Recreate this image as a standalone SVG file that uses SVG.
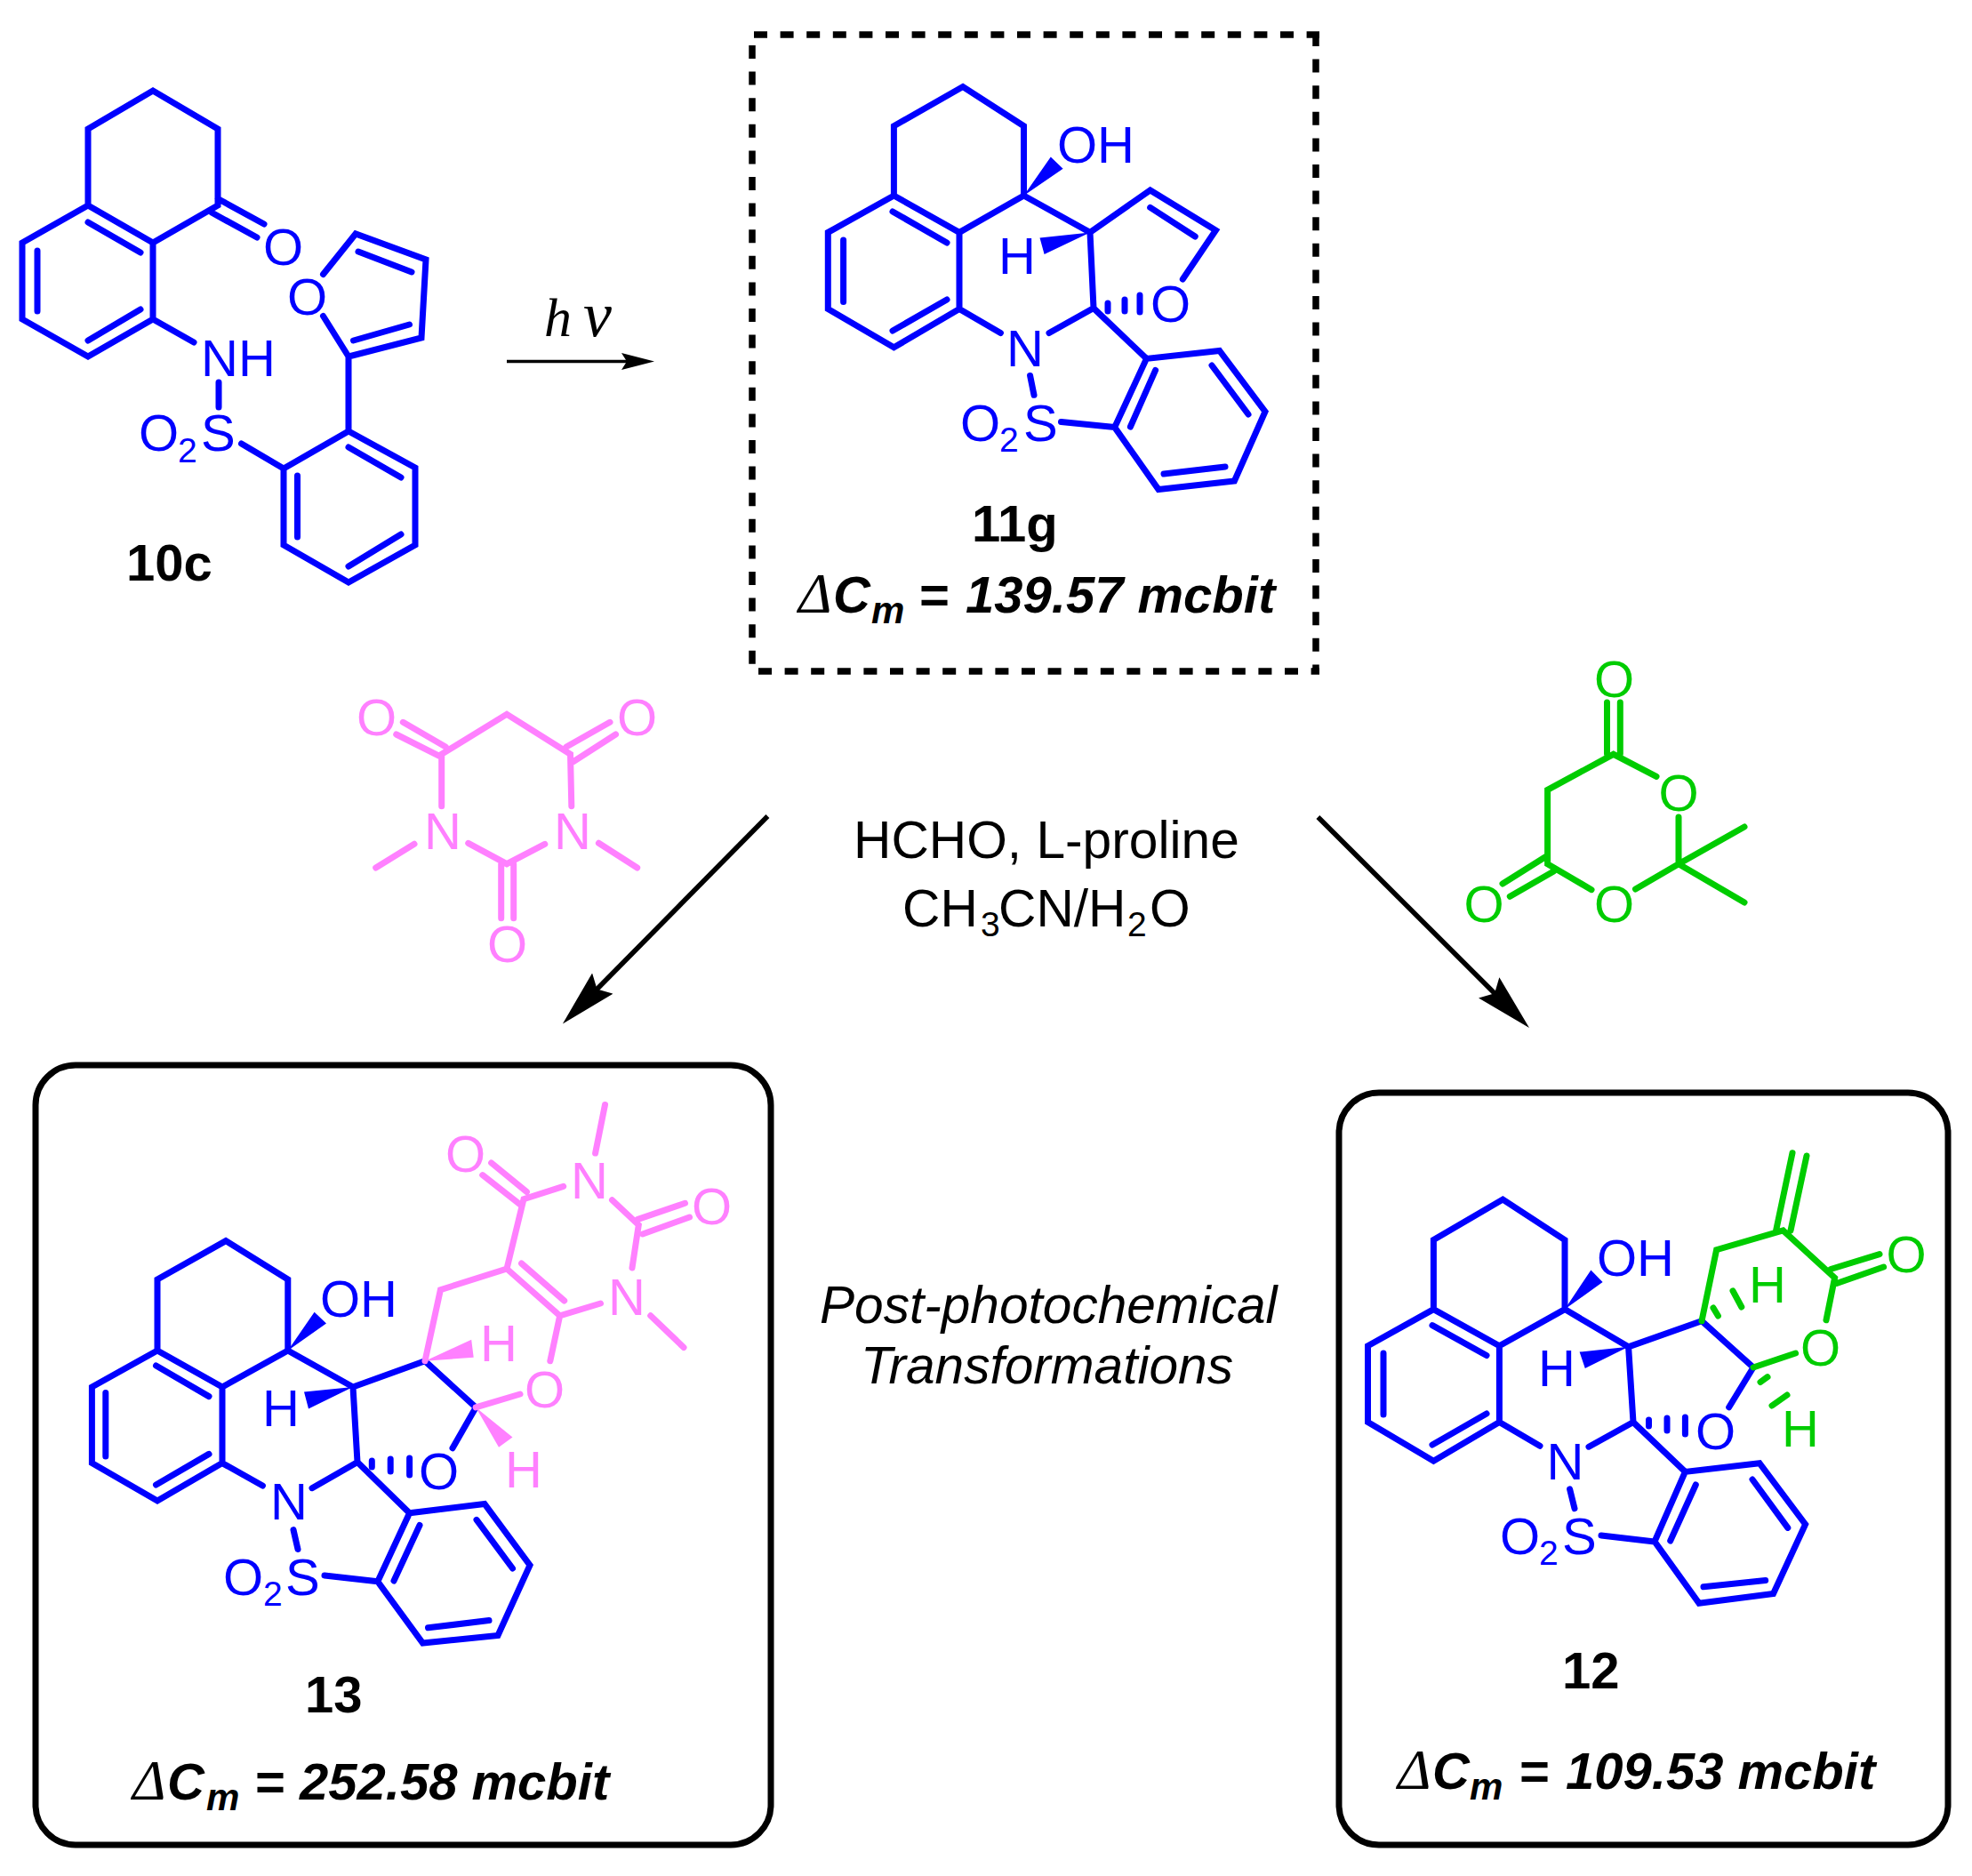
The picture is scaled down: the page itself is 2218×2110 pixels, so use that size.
<svg xmlns="http://www.w3.org/2000/svg" width="2218" height="2110" viewBox="0 0 2218 2110">
<style>
text{font-family:"Liberation Sans",Arial,sans-serif;font-size:58px}
.bl{fill:none;stroke:#0000ff;stroke-width:7;stroke-linecap:round;stroke-linejoin:miter}
.pk{fill:none;stroke:#ff80ff;stroke-width:7;stroke-linecap:round;stroke-linejoin:miter}
.gr{fill:none;stroke:#00cc00;stroke-width:7;stroke-linecap:round;stroke-linejoin:miter}
.wb{fill:#0000ff}.wp{fill:#ff80ff}
.tb{fill:#0000ff}.tp{fill:#ff80ff}.tg{fill:#00cc00}
.sub{font-size:39px}
.lab{font-weight:bold;fill:#000}
.cm{font-weight:bold;font-style:italic;fill:#000}
.cs{font-size:42px}
.dl{font-family:"Liberation Serif",serif;font-style:italic;fill:#000;font-size:64px}
.rt{fill:#000;font-size:58.7px}
.box{fill:none;stroke:#000;stroke-width:7}
.dash{fill:none;stroke:#000;stroke-width:7.5;stroke-dasharray:15 14.6}
.arr{fill:none;stroke:#000;stroke-width:5.5}
</style>
<defs>
<marker id="bigHead" markerUnits="userSpaceOnUse" markerWidth="64" markerHeight="33" refX="14" refY="16.5" orient="auto"><path d="M0 0L64 16.5L0 33L9 16.5Z" fill="#000"/></marker>
<marker id="smallHead" markerUnits="userSpaceOnUse" markerWidth="37" markerHeight="19" refX="11" refY="9.5" orient="auto"><path d="M0 0L37 9.5L0 19L6 9.5Z" fill="#000"/></marker>
</defs>
<rect width="2218" height="2110" fill="#fff"/>

<g id="connectors">
<path class="arr" style="stroke-width:3.5" d="M570 406.5H710" marker-end="url(#smallHead)"/>
<path class="arr" d="M863.4 918L668 1116" marker-end="url(#bigHead)"/>
<path class="arr" d="M1482.4 919L1684.6 1120.7" marker-end="url(#bigHead)"/>
</g>

<g id="reagent-hv"><text x="612" y="378" style="font-family:'Liberation Serif',serif;font-style:italic;font-size:62px;fill:#000">h<tspan x="656" style="font-size:72px">ν</tspan></text></g>
<g id="conditions">
<text class="rt" x="960" y="965">HCHO, L-proline</text>
<text class="rt" x="1015" y="1042">CH<tspan class="sub" x="1103" dy="11">3</tspan><tspan x="1123" dy="-11">CN/H</tspan><tspan class="sub" x="1268" dy="11">2</tspan><tspan x="1293" dy="-11">O</tspan></text>
</g>
<g id="caption"><text x="922" y="1488" style="font-style:italic;font-size:58.6px;fill:#000">Post-photochemical</text><text x="968" y="1556" style="font-style:italic;font-size:58.6px;fill:#000">Transformations</text></g>

<g id="mol-10c">
<path class="bl" d="M172 273L99 231V145L172 102L245 145V231L172 273V359L99 401L25 359V273L99 231M99 250L158 284M42 282V350M99 383L158 348M245 223.5L297 252M238 239L289 267M172 359L218 385M246 430V458M271.5 499L319 527L392 485L467 526V613L392 655L319 613V527M392 503L451 537M334.5 535V604M392 637L451 601M392 485V401L474 380L479 292L400 263L363.5 308.5M392 401L363.5 355.5M397.5 383L460.5 365M403 283L463 306"/>
<text class="tb" x="296" y="298">O</text>
<text class="tb" x="323" y="354">O</text>
<text class="tb" x="226" y="423">NH</text>
<text class="tb" x="156" y="507">O<tspan class="sub" x="200" dy="13">2</tspan><tspan x="226" dy="-13">S</tspan></text>
<text class="lab" x="142" y="653">10c</text>
</g>

<g id="mol-11g">
<path class="dash" d="M848 39H1484"/>
<path class="dash" d="M846 51V758"/>
<path class="dash" d="M1480 37V758"/>
<path class="dash" d="M853 755H1484"/>
<path class="bl" d="M1079 261.4L1005.4 220V141.7L1083 97.5L1151.5 141.7V220L1079 261.4V347.5L1005.4 390.8L931.3 347.5V261.4L1005.4 220M1004 238L1065 273M948.6 270V339.6M1004 372L1065 337M1151.5 220L1226 261.4L1293.7 213.9L1367.4 259L1330.3 314M1293.7 233.4L1344.2 266M1226 261.4L1230 346.6L1180 374.5M1079 347.5L1125.4 374.5M1230 346.6L1289.5 403.4L1371.6 394.5L1423 463L1388.4 541L1303 550.5L1253.7 480.6L1289.5 403.4M1158.6 422.5L1163 444.3M1193.5 474.6L1253.7 480.6M1299.6 416.4L1271.4 480M1363 411L1404 466M1378 525L1309 533"/>
<path class="wb" d="M1151.5 220L1181.8 176.6L1195.6 189.7ZM1226 261.4L1169.5 267.4L1174.6 286Z"/>
<path class="bl" d="M1246 341V350M1265 337V350M1282 332V351"/>
<text class="tb" x="1189" y="183">OH</text>
<text class="tb" x="1123" y="308">H</text>
<text class="tb" x="1294" y="362">O</text>
<text class="tb" x="1132" y="412">N</text>
<text class="tb" x="1080" y="495.5">O<tspan class="sub" x="1124" dy="12">2</tspan><tspan x="1151" dy="-12">S</tspan></text>
<text class="lab" x="1093" y="608.7">11g</text>
<text class="dl" x="898" y="689">Δ</text>
<text class="cm" x="937" y="689">C<tspan class="cs" x="980" dy="12">m</tspan><tspan x="1033" dy="-12">=</tspan><tspan x="1086">139.57 mcbit</tspan></text>
</g>

<g id="mol-malonylurea">
<path class="pk" d="M496.7 906.7V848.3L570 803.3L641.5 848.3L642.8 906.7M526.7 948.3L570 971.7L612.8 949.3M466 949.3L422.7 976M673.4 948.3L716.7 976M453.3 812.3L501.2 840M445.7 826L496.7 851.7M686 812.3L637 840M692.5 826L644.7 856.7M563.7 971.7V1032.7M577.7 971.7V1032.7"/>
<text class="tp" x="401" y="827">O</text><text class="tp" x="694" y="827">O</text><text class="tp" x="548" y="1082">O</text>
<text class="tp" x="477" y="955">N</text><text class="tp" x="623" y="955">N</text>
</g>

<g id="mol-meldrum">
<path class="gr" d="M1863 873.3L1814.7 848.3L1740.6 888.3V971.7L1790 1000.7M1807.5 790V848M1822.3 790V848M1888 919V971.7L1962 930M1888 971.7L1962 1015M1888 971.7L1839.5 1000M1739 963.3L1690 994M1747.5 980L1698.3 1008.3"/>
<text class="tg" x="1793" y="784">O</text><text class="tg" x="1865.5" y="912">O</text><text class="tg" x="1793" y="1037">O</text><text class="tg" x="1646.5" y="1037">O</text>
</g>

<g id="mol-13">
<rect class="box" x="40" y="1198" width="827" height="877" rx="45" ry="45"/>
<path class="bl" d="M250 1560L177 1519V1439L254 1395.6L323.8 1439V1519L250 1560V1645.6L177 1688L103.4 1645.6V1560L177 1519M175.5 1536L235 1570.6M118.8 1566.5V1638M175.5 1670L235 1635.4M323.8 1519L397 1560L478 1530.8L535.2 1582.9L509 1628.8M397 1560L402 1644.6L351 1673.7M250 1645.6L295.4 1671M402 1644.6L460.6 1701.7L545 1691.5L596 1760.4L560 1839.5L475.5 1848L424.8 1778.8L460.6 1701.7M330 1720.6L335 1742.5M365 1772L424.8 1778.8M472 1715.5L443 1778M536 1709.4L576.5 1764M550 1822.6L481.5 1830.8M418.3 1643V1650M439.2 1641V1655M460.6 1640V1659"/>
<path class="wb" d="M323.8 1519L353.6 1475.7L367 1488.5ZM397 1560L342 1565.5L347 1584.4Z"/>
<path class="wp" d="M478 1530.8L530.2 1506.8L532.7 1526.7ZM535.2 1582.9L576.5 1616.5L561 1627.8Z"/>
<path class="pk" d="M478 1530.8L495.4 1450.7L570 1427L589 1348.7L633.7 1334.4M669.6 1297L680.5 1242.5M688.5 1349.7L718.3 1377.8L711 1426M716.8 1371.6L770.5 1353.3M722.8 1388L775.5 1369M585 1354.8L542.7 1321.6M592.4 1340.5L552.6 1307.9M570 1427L629.7 1479.8L675.5 1466M586.5 1421L634.7 1463M731.7 1479.8L769 1515.5M629.7 1479.8L618.8 1530.8M535.2 1582.9L585 1568"/>
<text class="tb" x="360" y="1481">OH</text>
<text class="tb" x="295" y="1604">H</text>
<text class="tb" x="471" y="1675">O</text>
<text class="tb" x="304" y="1709">N</text>
<text class="tb" x="251" y="1793.6">O<tspan class="sub" x="296" dy="12">2</tspan><tspan x="321" dy="-12">S</tspan></text>
<text class="tp" x="540" y="1531">H</text>
<text class="tp" x="568" y="1673">H</text>
<text class="tp" x="501" y="1318">O</text>
<text class="tp" x="642" y="1348">N</text>
<text class="tp" x="778" y="1377">O</text>
<text class="tp" x="684" y="1479">N</text>
<text class="tp" x="590" y="1583">O</text>
<text class="lab" x="343" y="1926">13</text>
<text class="dl" x="149" y="2024">Δ</text>
<text class="cm" x="188" y="2024">C<tspan class="cs" x="232" dy="12">m</tspan><tspan x="286" dy="-12">=</tspan><tspan x="337">252.58 mcbit</tspan></text>
</g>

<g id="mol-12">
<rect class="box" x="1506" y="1229" width="685" height="846" rx="45" ry="45"/>
<path class="bl" d="M1686.4 1513.8L1612.4 1472.6V1394.6L1690.3 1349L1760 1394.6V1472.6L1686.4 1513.8V1599.6L1612.4 1643.2L1538.5 1599.6V1513.8L1612.4 1472.6M1611 1490.6L1672 1524.5M1556 1522V1591M1611 1625L1672 1590M1760 1472.6L1831.6 1514.8L1914 1485.7L1972 1538L1944.7 1582.7M1831.6 1514.8L1837 1599.6L1787 1627.2M1686.4 1599.6L1732 1626.3M1837 1599.6L1895.4 1655.4L1979 1645.7L2030.6 1714.5L1994.5 1792.5L1911 1803.2L1861 1733.9L1895.4 1655.4M1765.6 1674.8L1771 1696.6M1801 1727L1861 1733.9M1907.3 1670L1878.7 1733M1971 1664L2010.8 1718.4M1985.7 1777.5L1916 1784.8M1854.5 1597V1604M1875 1595V1609M1895.4 1594V1613"/>
<path class="wb" d="M1760 1472.6L1789.4 1428.5L1802.6 1442ZM1831.6 1514.8L1776.6 1520.6L1782.8 1539Z"/>
<path class="gr" d="M1914 1485.7L1930.6 1405.7L2005.5 1384L2063.6 1437.2L2054 1484.7M1997.6 1384L2016 1296.7M2014 1384L2032 1300M2059 1427.5L2114 1410.6M2065.8 1443.5L2118.6 1425M1972 1538L2019.6 1522M1927 1471L1932.4 1480M1949 1451.8L1958.8 1470M1980 1554.5L1988 1548.7M1993 1581L2010 1569"/>
<text class="tb" x="1796" y="1435">OH</text>
<text class="tb" x="1730" y="1559.4">H</text>
<text class="tb" x="1907" y="1630">O</text>
<text class="tb" x="1739.5" y="1664">N</text>
<text class="tb" x="1687" y="1747.5">O<tspan class="sub" x="1731" dy="12">2</tspan><tspan x="1757" dy="-12">S</tspan></text>
<text class="tg" x="1967" y="1465">H</text>
<text class="tg" x="2004" y="1627">H</text>
<text class="tg" x="2121.5" y="1431.4">O</text>
<text class="tg" x="2025" y="1535.6">O</text>
<text class="lab" x="1757" y="1899">12</text>
<text class="dl" x="1572" y="2011.6">Δ</text>
<text class="cm" x="1611" y="2011.6">C<tspan class="cs" x="1653" dy="12">m</tspan><tspan x="1708" dy="-12">=</tspan><tspan x="1761">109.53 mcbit</tspan></text>
</g>
</svg>
